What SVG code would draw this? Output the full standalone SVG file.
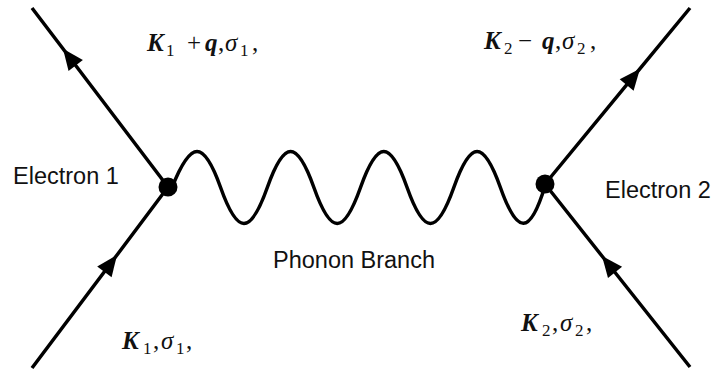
<svg xmlns="http://www.w3.org/2000/svg" width="713" height="371" viewBox="0 0 713 371">
<style>
.line{fill:none;stroke:#000;stroke-width:3.5;stroke-linecap:butt}
.wave{fill:none;stroke:#000;stroke-width:3.5}
.lbl{font-family:"Liberation Sans",Arial,sans-serif;font-size:23.5px;fill:#111}
.m{font-family:"Liberation Serif","DejaVu Serif",serif;font-size:25px;fill:#111}
.bi{font-weight:bold;font-style:italic}
.it{font-style:italic}
.sub{font-size:17px}
</style>
<defs>
<marker id="arr" markerUnits="userSpaceOnUse" markerWidth="24" markerHeight="22" viewBox="-22 -11 24 22" refX="0" refY="0" orient="auto">
<path d="M0,0 L-21,-9 L-21,9 Z" fill="#000"/>
</marker>
</defs>
<rect width="713" height="371" fill="#fff"/>
<g id="connectors">
<path class="line" d="M168,187 L63,48.8 L32,8" marker-mid="url(#arr)"/>
<path class="line" d="M32,368 L117,255 L168,187" marker-mid="url(#arr)"/>
<path class="line" d="M545,184 L640,68.7 L690,8" marker-mid="url(#arr)"/>
<path class="line" d="M690,367 L602,256 L545,184" marker-mid="url(#arr)"/>
<path id="phonon" class="wave" d="M172,187.5 C191,139.5 203.6,139.5 220.6,187.5 C237.6,235.5 250.3,235.5 267.3,187.5 C284.3,139.5 296.9,139.5 313.9,187.5 C330.9,235.5 343.5,235.5 360.5,187.5 C377.5,139.5 390.1,139.5 407.1,187.5 C424.1,235.5 436.8,235.5 453.8,187.5 C470.8,139.5 483.4,139.5 500.4,187.5 C517.4,235.5 530,235.5 545,186"/>
</g>
<g id="vertex1"><circle cx="168" cy="187" r="9.5" fill="#000"/></g>
<g id="vertex2"><circle cx="545" cy="184" r="9.5" fill="#000"/></g>
<g id="electron1"><text class="lbl" x="13" y="184">Electron 1</text></g>
<g id="electron2"><text class="lbl" x="605" y="198">Electron 2</text></g>
<g id="phonon-label"><text class="lbl" x="273" y="268">Phonon Branch</text></g>
<g id="label-k1q">
<text class="m" y="51"><tspan class="bi" x="147">K</tspan><tspan class="sub" x="166" y="56">1</tspan><tspan x="187" y="51">+</tspan><tspan class="bi" x="205">q</tspan><tspan x="218">,</tspan><tspan class="it" x="225">σ</tspan><tspan class="sub" x="240" y="56">1</tspan><tspan x="252" y="51">,</tspan></text>
</g>
<g id="label-k2q">
<text class="m" y="49"><tspan class="bi" x="484">K</tspan><tspan class="sub" x="504" y="54">2</tspan><tspan x="518" y="49">−</tspan><tspan class="bi" x="542">q</tspan><tspan x="555">,</tspan><tspan class="it" x="562">σ</tspan><tspan class="sub" x="577" y="54">2</tspan><tspan x="590" y="49">,</tspan></text>
</g>
<g id="label-k1">
<text class="m" y="349"><tspan class="bi" x="122">K</tspan><tspan class="sub" x="143" y="354">1</tspan><tspan x="153" y="349">,</tspan><tspan class="it" x="161">σ</tspan><tspan class="sub" x="176" y="354">1</tspan><tspan x="186" y="349">,</tspan></text>
</g>
<g id="label-k2">
<text class="m" y="331"><tspan class="bi" x="521">K</tspan><tspan class="sub" x="542" y="336">2</tspan><tspan x="552" y="331">,</tspan><tspan class="it" x="560">σ</tspan><tspan class="sub" x="575" y="336">2</tspan><tspan x="586" y="331">,</tspan></text>
</g>
</svg>
